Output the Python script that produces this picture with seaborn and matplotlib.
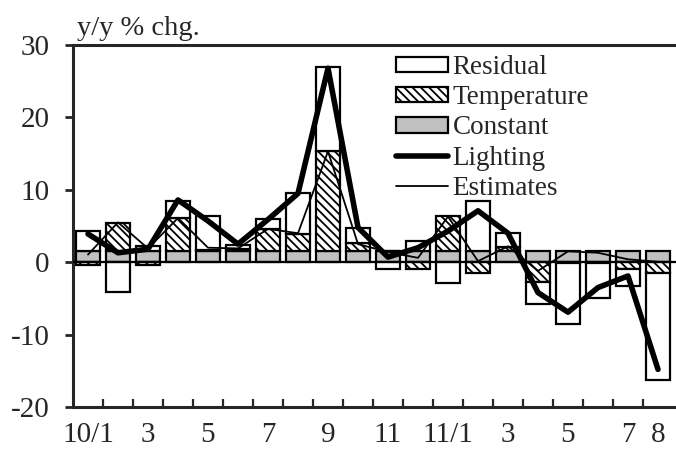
import numpy as np
import matplotlib
matplotlib.use("Agg")
import matplotlib.pyplot as plt
from matplotlib.patches import Patch
from matplotlib.lines import Line2D
import seaborn as sns

# months 2010/1 .. 2011/8
months = ["10/1", "10/2", "10/3", "10/4", "10/5", "10/6", "10/7", "10/8", "10/9", "10/10",
          "10/11", "10/12", "11/1", "11/2", "11/3", "11/4", "11/5", "11/6", "11/7", "11/8"]
tick_pos = [0, 2, 4, 6, 8, 10, 12, 14, 16, 18, 19]
tick_labels = ["10/1", "3", "5", "7", "9", "11", "11/1", "3", "5", "7", "8"]

constant = [1.55] * 20
temperature = [-0.45, 3.9, -0.45, 4.6, 0.2, 0.3, 3.0, 2.3, 13.8, 1.1,
               0.0, -1.0, 4.8, -1.5, 0.6, -2.8, -0.1, -0.1, -1.0, -1.5]
residual = [2.8, -4.1, 0.7, 2.3, 4.7, 0.5, 1.4, 5.65, 11.6, 2.1,
            -1.0, 1.4, -2.85, 6.9, 1.85, -3.0, -8.5, -4.8, -2.3, -14.8]
lighting = [3.9, 1.3, 1.8, 8.6, 5.7, 2.5, 5.9, 9.5, 26.8, 4.8,
            0.7, 2.0, 4.3, 7.1, 4.0, -4.2, -6.9, -3.5, -1.9, -14.8]
estimates = [1.05, 5.5, 1.9, 6.1, 2.0, 1.9, 4.6, 4.0, 15.3, 2.5,
             1.4, 0.6, 6.3, 0.15, 2.2, -1.2, 1.5, 1.3, 0.4, 0.05]

sns.set_style("ticks")
plt.rcParams["font.family"] = ["Liberation Serif", "DejaVu Serif"]
plt.rcParams["hatch.linewidth"] = 1.3
plt.rcParams["axes.unicode_minus"] = False

fig = plt.figure(figsize=(6.76, 4.54), dpi=100)
ax = fig.add_axes([73 / 676, 1 - 407 / 454, 603 / 676, 362 / 454])

x = np.arange(len(months))
hatch = "\\\\\\\\"

# stacked bars, positives up and negatives down
pos = np.zeros(len(x))
neg = np.zeros(len(x))
styles = [
    (constant, dict(facecolor="#c0c0c0", hatch=None)),
    (temperature, dict(facecolor="white", hatch=hatch)),
    (residual, dict(facecolor="white", hatch=None)),
]
for vals, st in styles:
    v = np.array(vals)
    bottom = np.where(v >= 0, pos, neg)
    ax.bar(x, v, bottom=bottom, width=0.8, edgecolor="black", linewidth=1.6, zorder=2, **st)
    pos = pos + np.where(v >= 0, v, 0)
    neg = neg + np.where(v < 0, v, 0)

ax.axhline(0, color="black", lw=1.6, zorder=3)

sns.lineplot(x=x, y=lighting, color="black", lw=4, ax=ax, zorder=5)
sns.lineplot(x=x, y=estimates, color="black", lw=1.3, ax=ax, zorder=4)

ax.set_xlim(-0.5, 19.6)
ax.set_ylim(-20, 30)
ax.set_yticks([-20, -10, 0, 10, 20, 30])
ax.set_xticks(tick_pos)
ax.set_xticklabels(tick_labels)
ax.set_xticks(np.arange(0.5, 19, 1), minor=True)
ax.tick_params(axis="x", which="major", length=0, pad=11, labelsize=21)
ax.tick_params(axis="x", which="minor", direction="in", length=6, width=1.6)
ax.tick_params(axis="y", direction="out", length=6, width=2, pad=11, labelsize=21)

for s in ["left", "bottom", "top"]:
    ax.spines[s].set_linewidth(2.2)
ax.spines["right"].set_visible(False)

ax.text(0.006, 1.012, "y/y % chg.", transform=ax.transAxes, fontsize=20.5,
        ha="left", va="bottom")

handles = [
    Patch(facecolor="white", edgecolor="black", linewidth=1.6),
    Patch(facecolor="white", edgecolor="black", hatch=hatch, linewidth=1.6),
    Patch(facecolor="#c0c0c0", edgecolor="black", linewidth=1.6),
    Line2D([], [], color="black", lw=4),
    Line2D([], [], color="black", lw=1.3),
]
labels = ["Residual", "Temperature", "Constant", "Lighting", "Estimates"]
ax.legend(handles, labels, loc="upper left", bbox_to_anchor=(0.535, 0.972),
          frameon=False, fontsize=19.5, borderpad=0, borderaxespad=0,
          handlelength=1.95, handleheight=0.5, handletextpad=0.15, labelspacing=0.19)

fig.savefig("out.png", dpi=100)
